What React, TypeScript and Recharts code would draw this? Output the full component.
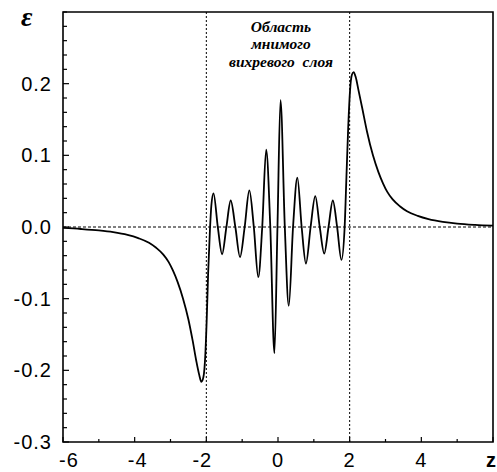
import { LineChart, Line, XAxis, YAxis, ReferenceLine, ReferenceArea } from "recharts";

// z positions and epsilon values
const zValues = [
  -6.0, -5.5, -5.0, -4.6, -4.2, -3.9, -3.6, -3.4, -3.2, -3.05, -2.93, -2.8, -2.65, -2.5, -2.38, -2.28, -2.2,
  -2.14, -2.08, -2.03, -1.99, -1.95, -1.9, -1.86, -1.8, -1.68, -1.56, -1.44, -1.32, -1.19, -1.06, -0.93, -0.8,
  -0.675, -0.55, -0.44, -0.33, -0.215, -0.1, -0.015, 0.07, 0.19, 0.3, 0.42, 0.54, 0.66, 0.78, 0.91, 1.04,
  1.165, 1.29, 1.41, 1.53, 1.65, 1.77, 1.86, 1.91, 1.96, 2.01, 2.06, 2.11, 2.17, 2.25, 2.35, 2.48, 2.65,
  2.8, 2.93, 3.05, 3.2, 3.4, 3.6, 3.9, 4.2, 4.6, 5.0, 5.5, 6.0,
];
const epsValues = [
  -0.0013, -0.0028, -0.0048, -0.0072, -0.011, -0.0155, -0.022, -0.029, -0.0385, -0.049, -0.061, -0.077, -0.1,
  -0.129, -0.159, -0.187, -0.206, -0.216, -0.209, -0.18, -0.13, -0.065, -0.005, 0.03, 0.047, 0, -0.038, 0,
  0.037, 0, -0.042, 0, 0.051, 0, -0.07, 0, 0.108, 0, -0.176, 0, 0.177, 0, -0.11, 0, 0.069, 0, -0.051, 0,
  0.043, 0, -0.037, 0, 0.037, 0, -0.046, 0, 0.07, 0.14, 0.19, 0.212, 0.216, 0.209, 0.19, 0.166, 0.134, 0.1,
  0.077, 0.061, 0.049, 0.0385, 0.029, 0.022, 0.0155, 0.011, 0.0072, 0.0048, 0.003, 0.0018,
];

const xTicks = [-6, -5, -4, -3, -2, -1, 0, 1, 2, 3, 4, 5, 6];
const yMajor = [-0.3, -0.2, -0.1, 0, 0.1, 0.2];
const yMajorLabels = ["-0.3", "-0.2", "-0.1", "0.0", "0.1", "0.2"];
const yTicks = Array.from({ length: 31 }, (_, i) => Math.round((-0.3 + i * 0.02) * 100) / 100);
const regionLines = [-2, 2];
const noteLines = ["Область", "мнимого", "вихревого  слоя"];

const data = zValues.map((z, i) => ({ z, eps: epsValues[i] }));

const labelFont = { fontFamily: "'Liberation Sans', Arial, sans-serif", fontSize: 20, letterSpacing: 1 };
// nudges so negative labels sit like in the original
const xLabelShift: Record<string, number> = { "-6": 6, "-4": 3, "-2": -4 };

const XTick = (props: any) => {
  const { x, y, payload } = props;
  const v = payload.value as number;
  const major = v % 2 === 0;
  const label = String(v);
  return (
    <g>
      <line x1={x} x2={x} y1={y} y2={y - (major ? 5 : 3)} stroke="#000" strokeWidth={1.2} />
      {major && v !== 6 && (
        <text x={x + (xLabelShift[label] || 0)} y={y + 25} textAnchor="middle" fill="#000" style={labelFont}>
          {label}
        </text>
      )}
    </g>
  );
};

const YTick = (props: any) => {
  const { x, y, payload } = props;
  const v = payload.value as number;
  const idx = yMajor.findIndex((m) => Math.abs(m - v) < 1e-9);
  const major = idx >= 0;
  return (
    <g>
      <line x1={x} x2={x + (major ? 6 : 4)} y1={y} y2={y} stroke="#000" strokeWidth={1.2} />
      {major && (
        <text x={x - 11} y={y + 7} textAnchor="end" fill="#000" style={labelFont}>
          {yMajorLabels[idx]}
        </text>
      )}
    </g>
  );
};

export default function App() {
  return (
    <div style={{ position: "absolute", left: 0, top: 0, width: 497, height: 472, background: "#fff" }}>
      <LineChart width={497} height={472} data={data} margin={{ top: 12, right: 4, bottom: 0, left: 0 }}>
        <XAxis
          dataKey="z"
          type="number"
          domain={[-6, 6]}
          ticks={xTicks}
          interval={0}
          axisLine={false}
          tickLine={false}
          tickSize={0}
          tickMargin={0}
          height={30}
          tick={<XTick />}
        />
        <YAxis
          type="number"
          domain={[-0.3, 0.3]}
          ticks={yTicks}
          interval={0}
          allowDataOverflow
          axisLine={false}
          tickLine={false}
          tickSize={0}
          tickMargin={0}
          width={63}
          tick={<YTick />}
        />
        {regionLines.map((x) => (
          <ReferenceLine key={x} x={x} stroke="#000" strokeWidth={1} strokeDasharray="2 2" />
        ))}
        <ReferenceLine y={0} stroke="#000" strokeWidth={1} strokeDasharray="3 2" />
        <Line
          type="monotone"
          dataKey="eps"
          stroke="#000"
          strokeWidth={1.8}
          dot={false}
          isAnimationActive={false}
        />
        <ReferenceArea x1={-6} x2={6} y1={-0.3} y2={0.3} fill="none" stroke="#000" strokeWidth={1.6} />
      </LineChart>
      <svg width={497} height={472} style={{ position: "absolute", left: 0, top: 0, pointerEvents: "none" }}>
        <text x={21} y={26} fill="#000" style={{ fontFamily: "'Liberation Serif', serif", fontWeight: "bold", fontStyle: "italic", fontSize: 28 }}>
          ε
        </text>
        {noteLines.map((t, i) => (
          <text
            key={t}
            x={281}
            y={31.5 + i * 17.5}
            textAnchor="middle"
            fill="#000"
            style={{ fontFamily: "'Liberation Serif', serif", fontWeight: "bold", fontStyle: "italic", fontSize: 15.5, whiteSpace: "pre" }}
          >
            {t}
          </text>
        ))}
        <text x={486} y={467} fill="#000" style={{ fontFamily: "'Liberation Sans', Arial, sans-serif", fontWeight: "bold", fontSize: 20 }}>
          z
        </text>
      </svg>
    </div>
  );
}
